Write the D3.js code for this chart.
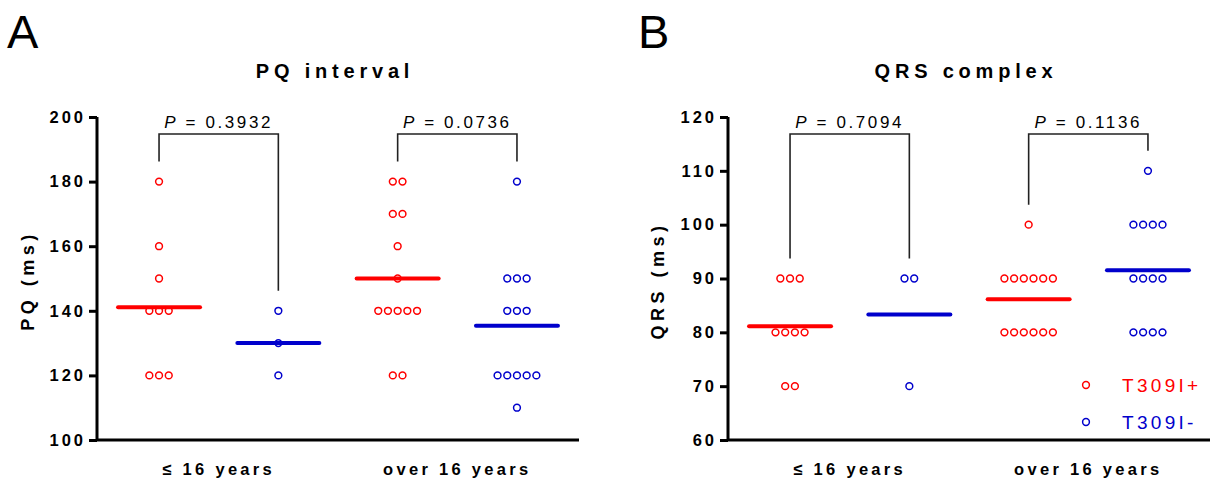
<!DOCTYPE html>
<html>
<head>
<meta charset="utf-8">
<script src="https://cdn.jsdelivr.net/npm/d3@7"></script>
<style>
  body { margin: 0; background: #fff; }
  text { font-family: "Liberation Sans", Arial, sans-serif; }
</style>
</head>
<body>
<div id="chart"></div>
<script>
// data
var groups = ["≤ 16 years", "over 16 years"];
var seriesNames = ["T309I+", "T309I-"];
var seriesColors = ["#ff0000", "#0000cc"];

var pqPlusYoung  = [180, 160, 150, 140, 140, 140, 120, 120, 120];
var pqMinusYoung = [140, 130, 120];
var pqPlusOld    = [180, 180, 170, 170, 160, 150, 140, 140, 140, 140, 140, 120, 120];
var pqMinusOld   = [180, 150, 150, 150, 140, 140, 140, 120, 120, 120, 120, 120, 110];
var pqTicks = [100, 120, 140, 160, 180, 200];
var pqPvalues = ["0.3932", "0.0736"];

var qrsPlusYoung  = [90, 90, 90, 80, 80, 80, 80, 70, 70];
var qrsMinusYoung = [90, 90, 70];
var qrsPlusOld    = [100, 90, 90, 90, 90, 90, 90, 80, 80, 80, 80, 80, 80];
var qrsMinusOld   = [110, 100, 100, 100, 100, 90, 90, 90, 90, 80, 80, 80, 80];
var qrsTicks = [60, 70, 80, 90, 100, 110, 120];
var qrsPvalues = ["0.7094", "0.1136"];

var W = 1212, H = 484;
var svg = d3.select("#chart").append("svg").attr("width", W).attr("height", H);

drawPanel({
    left: 97, letter: "A", title: "PQ interval", ylabel: "PQ (ms)", labelX: 33,
    ticks: pqTicks, pvalues: pqPvalues,
    sets: [pqPlusYoung, pqMinusYoung, pqPlusOld, pqMinusOld], legend: false
});
drawPanel({
    left: 728, letter: "B", title: "QRS complex", ylabel: "QRS (ms)", labelX: 663,
    ticks: qrsTicks, pvalues: qrsPvalues,
    sets: [qrsPlusYoung, qrsMinusYoung, qrsPlusOld, qrsMinusOld], legend: true
});

function drawPanel(cfg)
{
    var top = 117, bottom = 440, plotW = 482;
    var g = svg.append("g").attr("transform", "translate(" + cfg.left + ",0)");

    var keys = ["y+", "y-", "o+", "o-"];
    var x = d3.scalePoint().domain(keys).range([0, plotW]).padding(0.52);
    var y = d3.scaleLinear().domain(d3.extent(cfg.ticks)).range([bottom, top]);

    // panel letter + title
    svg.append("text").attr("x", cfg.left - 90).attr("y", 48)
        .attr("font-size", 47).text(cfg.letter);
    g.append("text").attr("x", plotW / 2 - 3).attr("y", 78)
        .attr("text-anchor", "middle").attr("font-size", 20).attr("font-weight", "bold")
        .attr("letter-spacing", "4.8px").text(cfg.title);

    // y axis
    var yAxis = g.append("g").call(d3.axisLeft(y).tickValues(cfg.ticks).tickSize(8).tickPadding(3));
    yAxis.select(".domain").attr("stroke-width", 3).attr("d", "M0," + top + "V" + bottom);
    yAxis.selectAll(".tick line").attr("stroke-width", 3);
    yAxis.selectAll(".tick text").attr("font-size", 16.5).attr("font-weight", "bold")
        .attr("letter-spacing", "3px").attr("fill", "#000")
        .attr("font-family", "'Liberation Sans', Arial, sans-serif");

    // x axis line
    g.append("line").attr("x1", 0).attr("x2", plotW).attr("y1", bottom).attr("y2", bottom)
        .attr("stroke", "#000").attr("stroke-width", 3);

    svg.append("text")
        .attr("transform", "translate(" + (cfg.labelX + 1) + "," + ((top + bottom) / 2 + 2) + ") rotate(-90)")
        .attr("text-anchor", "middle").attr("font-size", 18).attr("font-weight", "bold")
        .attr("letter-spacing", "4.5px").text(cfg.ylabel);

    // group labels
    groups.forEach(function (name, i) {
        var cx = (x(keys[i * 2]) + x(keys[i * 2 + 1])) / 2;
        g.append("text").attr("x", cx).attr("y", 475).attr("text-anchor", "middle")
            .attr("font-size", 16.5).attr("font-weight", "bold").attr("letter-spacing", "3.3px")
            .text(name);
    });

    // points, duplicates spread sideways
    cfg.sets.forEach(function (vals, i) {
        var color = seriesColors[i % 2];
        var counts = d3.rollup(vals, function (v) { return v.length; }, function (d) { return d; });
        var seen = {};
        var pts = vals.map(function (v) {
            seen[v] = (seen[v] || 0) + 1;
            var n = counts.get(v);
            return { v: v, dx: (seen[v] - 1 - (n - 1) / 2) * 9.7 };
        });
        g.selectAll(".pt" + i).data(pts).enter().append("circle")
            .attr("cx", function (d) { return x(keys[i]) + d.dx; })
            .attr("cy", function (d) { return y(d.v); })
            .attr("r", 3.4).attr("fill", "none").attr("stroke", color).attr("stroke-width", 1.5);

        var m = d3.mean(vals);
        g.append("line").attr("x1", x(keys[i]) - 41).attr("x2", x(keys[i]) + 41)
            .attr("y1", y(m)).attr("y2", y(m))
            .attr("stroke", color).attr("stroke-width", 4).attr("stroke-linecap", "round");
    });

    // significance brackets
    var bt = top + 17;
    cfg.pvalues.forEach(function (p, i) {
        var a = keys[i * 2], b = keys[i * 2 + 1];
        var ya = y(d3.max(cfg.sets[i * 2])) - 20, yb = y(d3.max(cfg.sets[i * 2 + 1])) - 20;
        g.append("path")
            .attr("d", "M" + x(a) + "," + ya + "V" + bt + "H" + x(b) + "V" + yb)
            .attr("fill", "none").attr("stroke", "#222").attr("stroke-width", 1.6);
        var t = g.append("text").attr("x", (x(a) + x(b)) / 2).attr("y", bt - 6)
            .attr("text-anchor", "middle").attr("font-size", 17).attr("letter-spacing", "2.6px");
        t.append("tspan").attr("font-style", "italic").text("P");
        t.append("tspan").text(" = " + p);
    });

    if (cfg.legend) {
        seriesNames.forEach(function (name, i) {
            var ly = bottom - 55 + i * 37;
            g.append("circle").attr("cx", 358).attr("cy", ly).attr("r", 3.4)
                .attr("fill", "none").attr("stroke", seriesColors[i]).attr("stroke-width", 1.5);
            g.append("text").attr("x", 394).attr("y", ly + 7).attr("font-size", 19)
                .attr("letter-spacing", "3.3px").attr("fill", seriesColors[i]).text(name);
        });
    }
}
</script>
</body>
</html>
